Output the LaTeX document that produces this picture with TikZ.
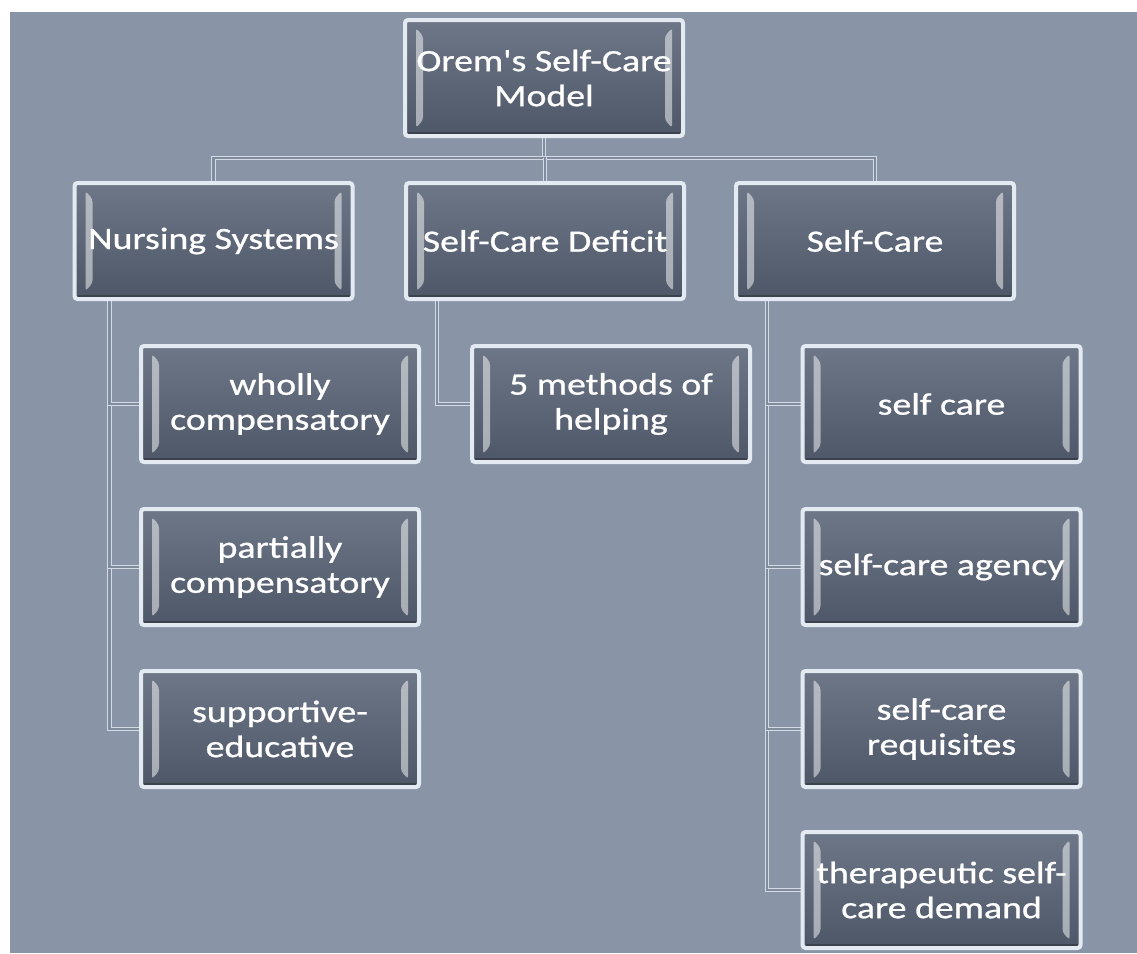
\documentclass[tikz,border=0pt]{standalone}
\usepackage{fontspec}
\newfontfamily\boxfontfam{Carlito}[FakeStretch=1.22, FakeBold=0.8, Ligatures=TeXOff]
\usetikzlibrary{calc}
\pgfdeclarelayer{background}
\pgfsetlayers{background,main}
\definecolor{bgc}{RGB}{137,149,167}
\definecolor{boxtop}{RGB}{110,119,136}
\definecolor{boxbot}{RGB}{78,87,103}
\definecolor{boxborder}{RGB}{228,234,241}
\definecolor{connlight}{RGB}{210,218,228}
\definecolor{connmid}{RGB}{128,140,158}
\tikzset{
  orgbox/.style={rectangle, rounded corners=3pt, minimum width=278pt, minimum height=116pt,
    line width=4pt, draw=boxborder, top color=boxtop, bottom color=boxbot,
    text=white, align=center, inner sep=0pt,
    font=\boxfontfam\fontsize{31}{35}\selectfont,
    path picture={
      \fill[white, opacity=0.5]
        ($(path picture bounding box.north west)+(11,8)$) -- ++(7,8)
        -- ($(path picture bounding box.south west)+(18,-16)$) -- ++(-7,8) -- cycle;
      \fill[white, opacity=0.5]
        ($(path picture bounding box.north east)+(-11,8)$) -- ++(-7,8)
        -- ($(path picture bounding box.south east)+(-18,-16)$) -- ++(7,8) -- cycle;
      \draw[black, opacity=0.25, line width=2pt]
        ($(path picture bounding box.south west)+(3,-3)$) -- ($(path picture bounding box.south east)+(-3,-3)$);
    }},
  conn/.style={draw=connlight, line width=1.2pt, double=connmid, double distance=2.4pt}
}
\begin{document}
\begin{tikzpicture}[x=1pt,y=-1pt]
\useasboundingbox (0,0) rectangle (1137,953);
\begin{pgfonlayer}{background}
  \fill[white] (0,0) rectangle (1137,953);
  \fill[bgc] (10,12) rectangle (1137,953);
\end{pgfonlayer}

\node[orgbox] (root) at (544,78) {Orem's Self-Care\\Model};

\node[orgbox] (ns)  at (213.5,241) {Nursing Systems};
\node[orgbox] (scd) at (545,241) {Self-Care Deficit};
\node[orgbox] (sc)  at (875,241) {Self-Care};

\node[orgbox] (wc) at (280,404) {wholly\\compensatory};
\node[orgbox] (pc) at (280,567) {partially\\compensatory};
\node[orgbox] (se) at (280,729) {supportive-\\educative};

\node[orgbox] (mh) at (611,404) {5 methods of\\helping};

\node[orgbox] (s1) at (941.5,404) {self care};
\node[orgbox] (s2) at (941.5,567) {self-care agency};
\node[orgbox] (s3) at (941.5,729) {self-care\\requisites};
\node[orgbox] (s4) at (941.5,890) {therapeutic self-\\care demand};

\coordinate (j) at (544,158);
\coordinate (nsv) at ($(ns.south west)+(37,0)$);
\coordinate (scdv) at ($(scd.south west)+(33,0)$);
\coordinate (scv) at ($(sc.south west)+(33,0)$);

\begin{pgfonlayer}{background}
  \draw[conn] (root.south) -- (j);
  \draw[conn] (ns.north) |- (j) -| (sc.north);
  \draw[conn] (scd.north) |- (j);
  \draw[conn] (nsv) |- (se.west);
  \draw[conn] (nsv) |- (pc.west);
  \draw[conn] (nsv) |- (wc.west);
  \draw[conn] (scdv) |- (mh.west);
  \draw[conn] (scv) |- (s4.west);
  \draw[conn] (scv) |- (s3.west);
  \draw[conn] (scv) |- (s2.west);
  \draw[conn] (scv) |- (s1.west);
\end{pgfonlayer}
\end{tikzpicture}
\end{document}
